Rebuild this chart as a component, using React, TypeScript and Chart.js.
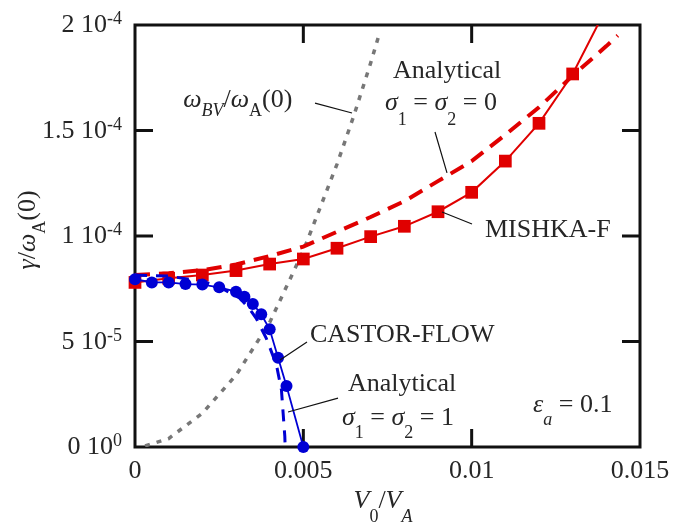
import React, { useEffect, useRef } from "react";
import { Chart, registerables } from "chart.js";
Chart.register(...registerables);

// ---------- data ----------
const castorX = [0, 0.0005, 0.001, 0.0015, 0.002, 0.0025, 0.003, 0.00325, 0.0035, 0.00375, 0.004, 0.00425, 0.0045, 0.005];
const castorY = [7.95e-5, 7.8e-5, 7.8e-5, 7.72e-5, 7.7e-5, 7.57e-5, 7.36e-5, 7.12e-5, 6.78e-5, 6.29e-5, 5.58e-5, 4.23e-5, 2.89e-5, 0];

const analytic1X = [0, 0.001, 0.002, 0.0025, 0.0028, 0.0031, 0.0034, 0.0036, 0.0039, 0.0042, 0.00435, 0.0044, 0.00445, 0.00446];
const analytic1Y = [8.15e-5, 8.1e-5, 7.85e-5, 7.6e-5, 7.32e-5, 7.07e-5, 6.55e-5, 6.1e-5, 5.15e-5, 3.9e-5, 2.7e-5, 1.6e-5, 0.5e-5, 0];

const mishkaX = [0, 0.001, 0.002, 0.003, 0.004, 0.005, 0.006, 0.007, 0.008, 0.009, 0.01, 0.011, 0.012, 0.013, 0.014];
const mishkaY = [7.8e-5, 8.0e-5, 8.15e-5, 8.36e-5, 8.67e-5, 8.91e-5, 9.42e-5, 9.97e-5, 10.46e-5, 11.15e-5, 12.07e-5, 13.55e-5, 15.34e-5, 17.68e-5, 20.8e-5];

const analytic0X = [0, 0.001, 0.002, 0.003, 0.004, 0.005, 0.006, 0.007, 0.008, 0.009, 0.01, 0.011, 0.012, 0.013, 0.014, 0.01434];
const analytic0Y = [8.15e-5, 8.23e-5, 8.38e-5, 8.65e-5, 9.05e-5, 9.5e-5, 10.2e-5, 10.9e-5, 11.65e-5, 12.6e-5, 13.55e-5, 14.8e-5, 16.1e-5, 17.6e-5, 19.0e-5, 19.5e-5];

const bvX = [0.0003, 0.001, 0.002, 0.003, 0.004, 0.005, 0.006, 0.0065, 0.007, 0.00728];
const bvY = [0.05e-5, 0.4e-5, 1.6e-5, 3.4e-5, 5.9e-5, 9.3e-5, 13.4e-5, 15.7e-5, 18.2e-5, 19.7e-5];

const xTickValues = [0, 0.005, 0.01, 0.015];
const xTickLabels = ["0", "0.005", "0.01", "0.015"];
const yTickValues = [0, 5e-5, 1e-4, 1.5e-4, 2e-4];
const yTickMantissa = ["0", "5", "1", "1.5", "2"];
const yTickExponent = ["0", "-5", "-4", "-4", "-4"];

const X_MIN = 0, X_MAX = 0.015, Y_MIN = 0, Y_MAX = 2e-4;

// ---------- helpers ----------
type Seg = { t: string; i?: boolean; sub?: boolean; sup?: boolean; dy?: number };
const FAMILY = '"Liberation Serif", "Times New Roman", serif';
const TEXT = "#262626";

function segFont(s: Seg, base: number) {
  const size = s.sub || s.sup ? Math.round(base * 0.7) : base;
  return `${s.i ? "italic " : ""}${size}px ${FAMILY}`;
}
function drawRich(ctx: CanvasRenderingContext2D, segs: Seg[], x: number, y: number, align: "left" | "center" | "right" = "left", base = 26) {
  ctx.save();
  ctx.textAlign = "left";
  ctx.textBaseline = "alphabetic";
  ctx.fillStyle = TEXT;
  let w = 0;
  const widths = segs.map((s) => {
    ctx.font = segFont(s, base);
    const m = ctx.measureText(s.t).width;
    w += m;
    return m;
  });
  let cx = x;
  if (align === "center") cx = x - w / 2;
  if (align === "right") cx = x - w;
  segs.forEach((s, k) => {
    ctx.font = segFont(s, base);
    const dy = s.dy !== undefined ? s.dy : s.sub ? 13 : s.sup ? -8 : 0;
    ctx.fillText(s.t, cx, y + dy);
    cx += widths[k];
  });
  ctx.restore();
}

const zo = zoomNull();
function zoomNull() { return null; }

const figurePlugin = {
  id: "figure",
  beforeDraw(chart: any) {
    const ctx = chart.ctx as CanvasRenderingContext2D;
    ctx.save();
    ctx.fillStyle = "#ffffff";
    ctx.fillRect(0, 0, chart.width, chart.height);
    ctx.restore();
  },
  beforeDatasetsDraw(chart: any) {
    const ctx = chart.ctx as CanvasRenderingContext2D;
    const { left, right, top, bottom } = chart.chartArea;
    const xs = chart.scales.x, ys = chart.scales.y;
    ctx.save();
    ctx.strokeStyle = "#111";
    ctx.lineWidth = 3;
    ctx.strokeRect(left, top, right - left, bottom - top);
    const L = 18;
    ctx.beginPath();
    yTickValues.forEach((v) => {
      if (v === Y_MIN || v === Y_MAX) return;
      const py = ys.getPixelForValue(v);
      ctx.moveTo(left, py); ctx.lineTo(left + L, py);
      ctx.moveTo(right, py); ctx.lineTo(right - L, py);
    });
    xTickValues.forEach((v) => {
      if (v === X_MIN || v === X_MAX) return;
      const px = xs.getPixelForValue(v);
      ctx.moveTo(px, bottom); ctx.lineTo(px, bottom - L);
      ctx.moveTo(px, top); ctx.lineTo(px, top + L);
    });
    ctx.stroke();
    ctx.restore();
  },
  afterDatasetsDraw(chart: any) {
    const ctx = chart.ctx as CanvasRenderingContext2D;
    const { left, right, bottom } = chart.chartArea;
    const xs = chart.scales.x, ys = chart.scales.y;
    const P = (x: number, y: number) => [xs.getPixelForValue(x), ys.getPixelForValue(y)];

    // tick labels
    xTickValues.forEach((v, k) => {
      drawRich(ctx, [{ t: xTickLabels[k] }], xs.getPixelForValue(v), bottom + 31, "center");
    });
    yTickValues.forEach((v, k) => {
      drawRich(ctx, [{ t: yTickMantissa[k] + " 10" }, { t: yTickExponent[k], sup: true }], left - 13, ys.getPixelForValue(v) + 7, "right");
    });

    // axis titles
    drawRich(ctx, [{ t: "V", i: true }, { t: "0", sub: true, dy: 14 }, { t: "/" }, { t: "V", i: true }, { t: "A", i: true, sub: true, dy: 14 }], (left + right) / 2 - 34, bottom + 61, "left");
    ctx.save();
    ctx.translate(35, ys.getPixelForValue((Y_MIN + Y_MAX) / 2) - 6);
    ctx.rotate(-Math.PI / 2);
    drawRich(ctx, [{ t: "γ", i: true }, { t: "/" }, { t: "ω", i: true }, { t: "A", sub: true, dy: 10 }, { t: "(0)" }], 0, 0, "center");
    ctx.restore();

    // annotations (anchored in data coordinates)
    const texts: [number, number, Seg[]][] = [
      [0.00143, 1.611e-4, [{ t: "ω", i: true }, { t: "BV", i: true, sub: true, dy: 9 }, { t: "/" }, { t: "ω", i: true }, { t: "A", sub: true, dy: 9 }, { t: "(0)" }]],
      [0.007663, 1.749e-4, [{ t: "Analytical" }]],
      [0.007426, 1.597e-4, [{ t: "σ", i: true }, { t: "1", sub: true, dy: 15 }, { t: " = " }, { t: "σ", i: true }, { t: "2", sub: true, dy: 15 }, { t: " = 0" }]],
      [0.010396, 0.995e-4, [{ t: "MISHKA-F" }]],
      [0.005198, 0.498e-4, [{ t: "CASTOR-FLOW" }]],
      [0.006327, 0.265e-4, [{ t: "Analytical" }]],
      [0.006149, 0.104e-4, [{ t: "σ", i: true }, { t: "1", sub: true, dy: 13 }, { t: " = " }, { t: "σ", i: true }, { t: "2", sub: true, dy: 13 }, { t: " = 1" }]],
      [0.011822, 0.166e-4, [{ t: "ε", i: true }, { t: "a", i: true, sub: true, dy: 13 }, { t: " = 0.1" }]],
    ];
    texts.forEach(([x, y, segs]) => {
      const [px, py] = P(x, y);
      drawRich(ctx, segs, px, py, "left");
    });

    const leaders: [number, number, number, number][] = [
      [0.005347, 1.630e-4, 0.006446, 1.583e-4],
      [0.008911, 1.493e-4, 0.009267, 1.299e-4],
      [0.009119, 1.114e-4, 0.010010, 1.057e-4],
      [0.004307, 0.412e-4, 0.005109, 0.498e-4],
      [0.004545, 0.166e-4, 0.006030, 0.232e-4],
    ];
    ctx.save();
    ctx.strokeStyle = "#111";
    ctx.lineWidth = 1.2;
    ctx.beginPath();
    leaders.forEach(([x1, y1, x2, y2]) => {
      const [a, b] = P(x1, y1);
      const [c, d] = P(x2, y2);
      ctx.moveTo(a, b); ctx.lineTo(c, d);
    });
    ctx.stroke();
    ctx.restore();
  },
};

const pts = (xs: number[], ys: number[]) => xs.map((x, k) => ({ x, y: ys[k] }));

export default function App() {
  const ref = useRef<HTMLCanvasElement | null>(null);
  useEffect(() => {
    if (!ref.current) return;
    const RED = "#e00000";
    const BLUE = "#0000d4";
    const markerClip = { left: 12, top: 0, right: 0, bottom: 12 };
    const chart = new Chart(ref.current, {
      type: "scatter",
      data: {
        datasets: [
          {
            label: "CASTOR-FLOW",
            data: pts(castorX, castorY),
            showLine: true,
            borderColor: BLUE,
            backgroundColor: BLUE,
            borderWidth: 1.8,
            pointRadius: 6,
            pointBorderWidth: 0,
            pointBackgroundColor: BLUE,
            clip: markerClip,
          },
          {
            label: "Analytical s=1",
            data: pts(analytic1X, analytic1Y),
            showLine: true,
            borderColor: BLUE,
            borderWidth: 3,
            borderDash: [12, 9],
            pointRadius: 0,
          },
          {
            label: "MISHKA-F",
            data: pts(mishkaX, mishkaY),
            showLine: true,
            borderColor: RED,
            backgroundColor: RED,
            borderWidth: 2,
            pointStyle: "rect",
            pointRadius: 9,
            pointBorderWidth: 0,
            pointBackgroundColor: RED,
            clip: markerClip,
          },
          {
            label: "Analytical s=0",
            data: pts(analytic0X, analytic0Y),
            showLine: true,
            borderColor: RED,
            borderWidth: 4,
            borderDash: [15, 9],
            pointRadius: 0,
          },
          {
            label: "omega BV",
            data: pts(bvX, bvY),
            showLine: true,
            borderColor: "#777777",
            borderWidth: 3.5,
            borderDash: [5, 7],
            pointRadius: 0,
          },
        ],
      } as any,
      options: {
        animation: false,
        responsive: false,
        devicePixelRatio: 1,
        layout: { padding: { left: 135, right: 52, top: 25, bottom: 78 } },
        plugins: { legend: { display: false }, tooltip: { enabled: false } },
        scales: {
          x: { type: "linear", min: X_MIN, max: X_MAX, display: false },
          y: { type: "linear", min: Y_MIN, max: Y_MAX, display: false },
        },
      } as any,
      plugins: [figurePlugin],
    });
    return () => chart.destroy();
  }, []);
  return (
    <div style={{ position: "fixed", left: 0, top: 0, width: 692, height: 525, background: "#fff" }}>
      <canvas ref={ref} width={692} height={525} style={{ display: "block", width: 692, height: 525 }} />
    </div>
  );
}
